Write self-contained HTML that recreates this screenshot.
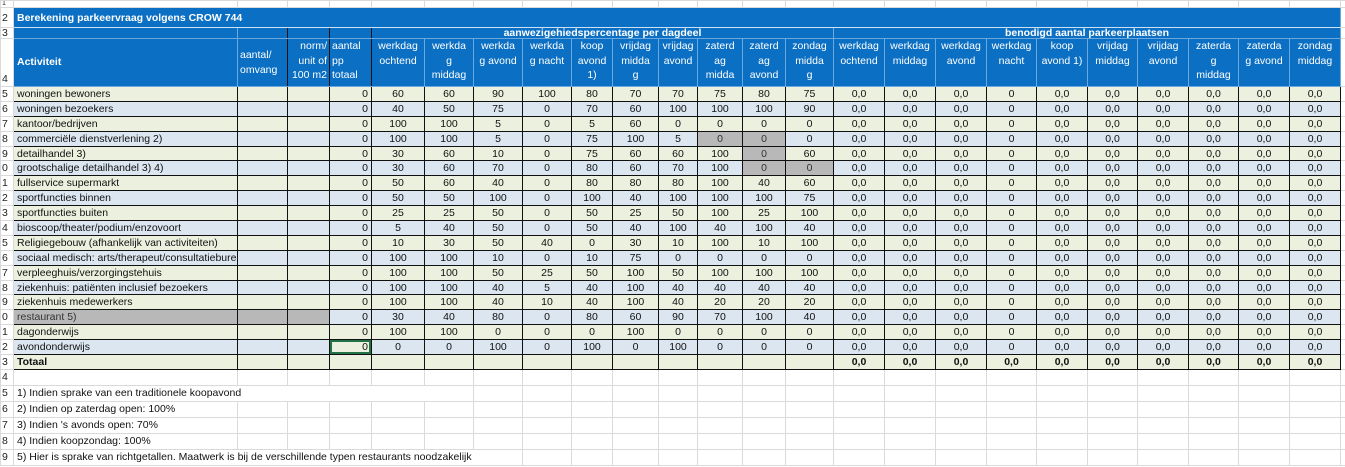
<!DOCTYPE html>
<html><head><meta charset="utf-8"><style>
html,body{margin:0;padding:0;background:#fff;width:1345px;height:467px;overflow:hidden}
table{border-collapse:collapse;table-layout:fixed;width:1345px;font-family:"Liberation Sans",sans-serif;font-size:10.5px;color:#111}
td{padding:0;white-space:nowrap;overflow:hidden;border:1px solid #d9d9d9;text-align:center;line-height:12px}
td.h{text-align:left;background:#fff;border-color:#d9d9d9;color:#222;padding-left:1px}
tr.g td{background:#ebf1de}
tr.b td{background:#dce6f1}
tr.g td,tr.b td,tr.t td{border:1px solid #111}
tr.g td.h,tr.b td.h,tr.t td.h,tr.g td.z,tr.b td.z,tr.t td.z{background:#fff;border-color:#d9d9d9}
td.a{text-align:left;padding-left:3px}
td.r{text-align:right;padding-right:3px}
tr.g td.x,tr.b td.x{background:repeating-conic-gradient(#8a8a8a 0 25%,#e6e6e6 0 50%) 0 0/2px 2px;color:#333}
tr.t td{background:#ebf1de;font-weight:bold}
.bl td{background:#0b6fc3;color:#fff;border:1px solid #6aa8de}
.bl td.h{background:#fff;color:#222;border-color:#d9d9d9}
.bl td.d{border-left:1px solid #111;border-right:1px solid #111}
tr.hd td{vertical-align:top;line-height:14.5px;white-space:normal}
tr.f td{border-color:#dadada}
tr.g,tr.b,tr.t{height:14.9px}
td.sel{box-shadow:inset 0 0 0 2px #217346}
</style></head><body>
<table>
<colgroup><col style="width:13px"><col style="width:224px"><col style="width:50px"><col style="width:42px"><col style="width:42px"><col style="width:53px"><col style="width:49px"><col style="width:49px"><col style="width:49px"><col style="width:41px"><col style="width:46px"><col style="width:39px"><col style="width:45px"><col style="width:43px"><col style="width:48px"><col style="width:51px"><col style="width:51px"><col style="width:51px"><col style="width:50px"><col style="width:51px"><col style="width:50px"><col style="width:51px"><col style="width:50px"><col style="width:51px"><col style="width:51px"><col style="width:5px"></colgroup>
<tr class="f" style="height:7px"><td class="h" style="font-size:7px;line-height:6px">1</td><td></td><td></td><td></td><td></td><td></td><td></td><td></td><td></td><td></td><td></td><td></td><td></td><td></td><td></td><td></td><td></td><td></td><td></td><td></td><td></td><td></td><td></td><td></td><td></td><td></td></tr>
<tr class="bl" style="height:20px"><td class="h">2</td><td colspan="24" style="text-align:left;padding-left:3px;font-weight:bold;font-size:10.5px;border-bottom:1px solid #cfe2f3">Berekening parkeervraag volgens CROW 744</td><td class="h"></td></tr>
<tr class="bl" style="height:11px"><td class="h" style="line-height:10px">3</td><td style="line-height:10px"></td><td class="d"></td><td class="d"></td><td class="d"></td><td colspan="10" style="font-weight:bold;line-height:10px;border-left:1px solid #111">aanwezigehiedspercentage per dagdeel</td><td colspan="10" style="font-weight:bold;line-height:10px">benodigd aantal parkeerplaatsen</td><td class="h"></td></tr>
<tr class="bl hd" style="height:48px"><td class="h" style="vertical-align:bottom">4</td><td style="text-align:left;padding-left:3px;font-weight:bold;vertical-align:middle">Activiteit</td><td class="d" style="text-align:left;padding-left:2px;vertical-align:middle">aantal/<br>omvang</td><td class="d" style="text-align:right;padding-right:2px">norm/<br>unit of<br>100 m2</td><td class="d" style="text-align:left;padding-left:2px">aantal<br>pp<br>totaal</td><td style="border-left:1px solid #111">werkdag<br>ochtend</td><td>werkda<br>g<br>middag</td><td>werkda<br>g avond</td><td>werkda<br>g nacht</td><td>koop<br>avond<br>1)</td><td>vrijdag<br>midda<br>g</td><td>vrijdag<br>avond</td><td>zaterd<br>ag<br>midda</td><td>zaterd<br>ag<br>avond</td><td>zondag<br>midda<br>g</td><td>werkdag<br>ochtend</td><td>werkdag<br>middag</td><td>werkdag<br>avond</td><td>werkdag<br>nacht</td><td>koop<br>avond 1)</td><td>vrijdag<br>middag</td><td>vrijdag<br>avond</td><td>zaterda<br>g<br>middag</td><td>zaterda<br>g avond</td><td>zondag<br>middag</td><td class="h"></td></tr>
<tr class="g"><td class="h">5</td><td class="a">woningen bewoners</td><td></td><td></td><td class="r">0</td><td>60</td><td>60</td><td>90</td><td>100</td><td>80</td><td>70</td><td>70</td><td>75</td><td>80</td><td>75</td><td>0,0</td><td>0,0</td><td>0,0</td><td>0</td><td>0,0</td><td>0,0</td><td>0,0</td><td>0,0</td><td>0,0</td><td>0,0</td><td class="z"></td></tr>
<tr class="b"><td class="h">6</td><td class="a">woningen bezoekers</td><td></td><td></td><td class="r">0</td><td>40</td><td>50</td><td>75</td><td>0</td><td>70</td><td>60</td><td>100</td><td>100</td><td>100</td><td>90</td><td>0,0</td><td>0,0</td><td>0,0</td><td>0</td><td>0,0</td><td>0,0</td><td>0,0</td><td>0,0</td><td>0,0</td><td>0,0</td><td class="z"></td></tr>
<tr class="g"><td class="h">7</td><td class="a">kantoor/bedrijven</td><td></td><td></td><td class="r">0</td><td>100</td><td>100</td><td>5</td><td>0</td><td>5</td><td>60</td><td>0</td><td>0</td><td>0</td><td>0</td><td>0,0</td><td>0,0</td><td>0,0</td><td>0</td><td>0,0</td><td>0,0</td><td>0,0</td><td>0,0</td><td>0,0</td><td>0,0</td><td class="z"></td></tr>
<tr class="b"><td class="h">8</td><td class="a">commerciële dienstverlening 2)</td><td></td><td></td><td class="r">0</td><td>100</td><td>100</td><td>5</td><td>0</td><td>75</td><td>100</td><td>5</td><td class="x">0</td><td class="x">0</td><td>0</td><td>0,0</td><td>0,0</td><td>0,0</td><td>0</td><td>0,0</td><td>0,0</td><td>0,0</td><td>0,0</td><td>0,0</td><td>0,0</td><td class="z"></td></tr>
<tr class="g"><td class="h">9</td><td class="a">detailhandel 3)</td><td></td><td></td><td class="r">0</td><td>30</td><td>60</td><td>10</td><td>0</td><td>75</td><td>60</td><td>60</td><td>100</td><td class="x">0</td><td>60</td><td>0,0</td><td>0,0</td><td>0,0</td><td>0</td><td>0,0</td><td>0,0</td><td>0,0</td><td>0,0</td><td>0,0</td><td>0,0</td><td class="z"></td></tr>
<tr class="b"><td class="h">0</td><td class="a">grootschalige detailhandel 3) 4)</td><td></td><td></td><td class="r">0</td><td>30</td><td>60</td><td>70</td><td>0</td><td>80</td><td>60</td><td>70</td><td>100</td><td class="x">0</td><td class="x">0</td><td>0,0</td><td>0,0</td><td>0,0</td><td>0</td><td>0,0</td><td>0,0</td><td>0,0</td><td>0,0</td><td>0,0</td><td>0,0</td><td class="z"></td></tr>
<tr class="g"><td class="h">1</td><td class="a">fullservice supermarkt</td><td></td><td></td><td class="r">0</td><td>50</td><td>60</td><td>40</td><td>0</td><td>80</td><td>80</td><td>80</td><td>100</td><td>40</td><td>60</td><td>0,0</td><td>0,0</td><td>0,0</td><td>0</td><td>0,0</td><td>0,0</td><td>0,0</td><td>0,0</td><td>0,0</td><td>0,0</td><td class="z"></td></tr>
<tr class="b"><td class="h">2</td><td class="a">sportfuncties binnen</td><td></td><td></td><td class="r">0</td><td>50</td><td>50</td><td>100</td><td>0</td><td>100</td><td>40</td><td>100</td><td>100</td><td>100</td><td>75</td><td>0,0</td><td>0,0</td><td>0,0</td><td>0</td><td>0,0</td><td>0,0</td><td>0,0</td><td>0,0</td><td>0,0</td><td>0,0</td><td class="z"></td></tr>
<tr class="g"><td class="h">3</td><td class="a">sportfuncties buiten</td><td></td><td></td><td class="r">0</td><td>25</td><td>25</td><td>50</td><td>0</td><td>50</td><td>25</td><td>50</td><td>100</td><td>25</td><td>100</td><td>0,0</td><td>0,0</td><td>0,0</td><td>0</td><td>0,0</td><td>0,0</td><td>0,0</td><td>0,0</td><td>0,0</td><td>0,0</td><td class="z"></td></tr>
<tr class="b"><td class="h">4</td><td class="a">bioscoop/theater/podium/enzovoort</td><td></td><td></td><td class="r">0</td><td>5</td><td>40</td><td>50</td><td>0</td><td>50</td><td>40</td><td>100</td><td>40</td><td>100</td><td>40</td><td>0,0</td><td>0,0</td><td>0,0</td><td>0</td><td>0,0</td><td>0,0</td><td>0,0</td><td>0,0</td><td>0,0</td><td>0,0</td><td class="z"></td></tr>
<tr class="g"><td class="h">5</td><td class="a">Religiegebouw (afhankelijk van activiteiten)</td><td></td><td></td><td class="r">0</td><td>10</td><td>30</td><td>50</td><td>40</td><td>0</td><td>30</td><td>10</td><td>100</td><td>10</td><td>100</td><td>0,0</td><td>0,0</td><td>0,0</td><td>0</td><td>0,0</td><td>0,0</td><td>0,0</td><td>0,0</td><td>0,0</td><td>0,0</td><td class="z"></td></tr>
<tr class="b"><td class="h">6</td><td class="a">sociaal medisch: arts/therapeut/consultatiebureau</td><td></td><td></td><td class="r">0</td><td>100</td><td>100</td><td>10</td><td>0</td><td>10</td><td>75</td><td>0</td><td>0</td><td>0</td><td>0</td><td>0,0</td><td>0,0</td><td>0,0</td><td>0</td><td>0,0</td><td>0,0</td><td>0,0</td><td>0,0</td><td>0,0</td><td>0,0</td><td class="z"></td></tr>
<tr class="g"><td class="h">7</td><td class="a">verpleeghuis/verzorgingstehuis</td><td></td><td></td><td class="r">0</td><td>100</td><td>100</td><td>50</td><td>25</td><td>50</td><td>100</td><td>50</td><td>100</td><td>100</td><td>100</td><td>0,0</td><td>0,0</td><td>0,0</td><td>0</td><td>0,0</td><td>0,0</td><td>0,0</td><td>0,0</td><td>0,0</td><td>0,0</td><td class="z"></td></tr>
<tr class="b"><td class="h">8</td><td class="a">ziekenhuis: patiënten inclusief bezoekers</td><td></td><td></td><td class="r">0</td><td>100</td><td>100</td><td>40</td><td>5</td><td>40</td><td>100</td><td>40</td><td>40</td><td>40</td><td>40</td><td>0,0</td><td>0,0</td><td>0,0</td><td>0</td><td>0,0</td><td>0,0</td><td>0,0</td><td>0,0</td><td>0,0</td><td>0,0</td><td class="z"></td></tr>
<tr class="g"><td class="h">9</td><td class="a">ziekenhuis medewerkers</td><td></td><td></td><td class="r">0</td><td>100</td><td>100</td><td>40</td><td>10</td><td>40</td><td>100</td><td>40</td><td>20</td><td>20</td><td>20</td><td>0,0</td><td>0,0</td><td>0,0</td><td>0</td><td>0,0</td><td>0,0</td><td>0,0</td><td>0,0</td><td>0,0</td><td>0,0</td><td class="z"></td></tr>
<tr class="b"><td class="h">0</td><td class="a x">restaurant 5)</td><td class="x"></td><td class="x"></td><td class="r">0</td><td>30</td><td>40</td><td>80</td><td>0</td><td>80</td><td>60</td><td>90</td><td>70</td><td>100</td><td>40</td><td>0,0</td><td>0,0</td><td>0,0</td><td>0</td><td>0,0</td><td>0,0</td><td>0,0</td><td>0,0</td><td>0,0</td><td>0,0</td><td class="z"></td></tr>
<tr class="g"><td class="h">1</td><td class="a">dagonderwijs</td><td></td><td></td><td class="r">0</td><td>100</td><td>100</td><td>0</td><td>0</td><td>0</td><td>100</td><td>0</td><td>0</td><td>0</td><td>0</td><td>0,0</td><td>0,0</td><td>0,0</td><td>0</td><td>0,0</td><td>0,0</td><td>0,0</td><td>0,0</td><td>0,0</td><td>0,0</td><td class="z"></td></tr>
<tr class="b"><td class="h">2</td><td class="a">avondonderwijs</td><td></td><td></td><td class="r sel" style="background:#ebf1de">0</td><td>0</td><td>0</td><td>100</td><td>0</td><td>100</td><td>0</td><td>100</td><td>0</td><td>0</td><td>0</td><td>0,0</td><td>0,0</td><td>0,0</td><td>0</td><td>0,0</td><td>0,0</td><td>0,0</td><td>0,0</td><td>0,0</td><td>0,0</td><td class="z"></td></tr>
<tr class="t"><td class="h" style="font-weight:normal">3</td><td class="a">Totaal</td><td></td><td></td><td></td><td></td><td></td><td></td><td></td><td></td><td></td><td></td><td></td><td></td><td></td><td>0,0</td><td>0,0</td><td>0,0</td><td>0,0</td><td>0,0</td><td>0,0</td><td>0,0</td><td>0,0</td><td>0,0</td><td>0,0</td><td class="z"></td></tr>
<tr class="f" style="height:16px"><td class="h">4</td><td></td><td></td><td></td><td></td><td></td><td></td><td></td><td></td><td></td><td></td><td></td><td></td><td></td><td></td><td></td><td></td><td></td><td></td><td></td><td></td><td></td><td></td><td></td><td></td><td></td></tr>
<tr class="f" style="height:16px"><td class="h">5</td><td colspan="6" style="text-align:left;padding-left:3px">1) Indien sprake van een traditionele koopavond</td><td></td><td></td><td></td><td></td><td></td><td></td><td></td><td></td><td></td><td></td><td></td><td></td><td></td><td></td><td></td><td></td><td></td><td></td><td></td></tr>
<tr class="f" style="height:16px"><td class="h">6</td><td style="text-align:left;padding-left:3px">2) Indien op zaterdag open: 100%</td><td></td><td></td><td></td><td></td><td></td><td></td><td></td><td></td><td></td><td></td><td></td><td></td><td></td><td></td><td></td><td></td><td></td><td></td><td></td><td></td><td></td><td></td><td></td><td></td></tr>
<tr class="f" style="height:16px"><td class="h">7</td><td style="text-align:left;padding-left:3px">3) Indien 's avonds open: 70%</td><td></td><td></td><td></td><td></td><td></td><td></td><td></td><td></td><td></td><td></td><td></td><td></td><td></td><td></td><td></td><td></td><td></td><td></td><td></td><td></td><td></td><td></td><td></td><td></td></tr>
<tr class="f" style="height:16px"><td class="h">8</td><td style="text-align:left;padding-left:3px">4) Indien koopzondag: 100%</td><td></td><td></td><td></td><td></td><td></td><td></td><td></td><td></td><td></td><td></td><td></td><td></td><td></td><td></td><td></td><td></td><td></td><td></td><td></td><td></td><td></td><td></td><td></td><td></td></tr>
<tr class="f" style="height:16px"><td class="h">9</td><td colspan="7" style="text-align:left;padding-left:3px">5) Hier is sprake van richtgetallen. Maatwerk is bij de verschillende typen restaurants noodzakelijk</td><td></td><td></td><td></td><td></td><td></td><td></td><td></td><td></td><td></td><td></td><td></td><td></td><td></td><td></td><td></td><td></td><td></td><td></td></tr>
</table>
</body></html>
